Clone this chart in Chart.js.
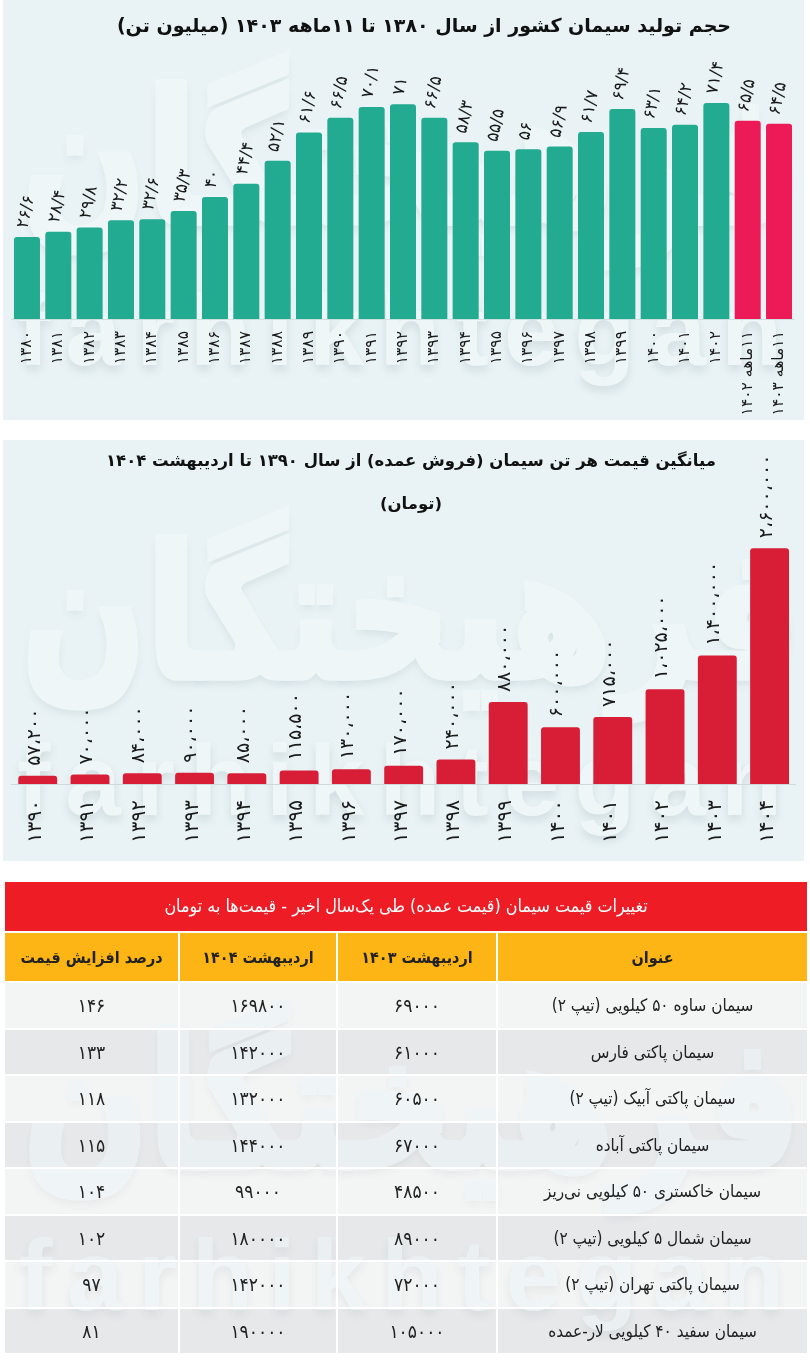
<!DOCTYPE html>
<html lang="fa">
<head>
<meta charset="utf-8">
<title>سیمان</title>
<script src="https://cdn.jsdelivr.net/npm/chart.js@4"></script>
<style>
  html, body { margin: 0; padding: 0; background: #fff; }
  #page { position: relative; width: 810px; height: 1370px; overflow: hidden; font-family: "DejaVu Sans", sans-serif; }
  .panel { position: absolute; left: 3px; width: 801px; background: #e9f3f6; overflow: hidden; }
  #panel1 { top: 0; height: 420px; }
  #panel2 { top: 440px; height: 421px; }
  canvas { position: absolute; left: 0; display: block; }
  #chart1 { top: 0; }
  #chart2 { top: 440px; }
  .title { position: absolute; width: 810px; left: 0; text-align: center; direction: rtl; font-weight: bold; color: #111; white-space: nowrap; }
  .wm { position: absolute; white-space: nowrap; color: #eef6f8; text-shadow: 0 5px 9px rgba(90,110,120,.16); font-weight: bold; pointer-events: none; transform-origin: 0 0; }
  .wm-fa { font-size: 146px; direction: rtl; width: 790px; left: 5px; -webkit-text-stroke: 6px #eef6f8; transform: scaleY(1.25); }
  .wm-en { font-size: 100px; font-family: "Liberation Sans", sans-serif; letter-spacing: 15px; left: 14px; }
  #rowStripes { position: absolute; left: 5px; top: 0; width: 802px; height: 1370px; pointer-events: none; }
  #rowStripes div { position: absolute; left: 0; width: 802px; }
  #tableWrap { position: absolute; left: 5px; top: 882px; width: 802px; }
  table { border-collapse: separate; border-spacing: 0; width: 802px; table-layout: fixed; direction: rtl; font-family: "DejaVu Sans Condensed", "DejaVu Sans", sans-serif; color: #222; }
  caption { background: #ee1c25; color: #fff; height: 49px; line-height: 47px; font-size: 17.8px; }
  th { background: #fdb515; height: 48px; padding: 0; font-size: 16px; font-weight: bold; color: #222; border-top: 2px solid #fff; border-left: 2px solid #fff; }
  td { height: 44.5px; padding: 0; text-align: center; font-size: 19px; border-top: 2px solid #fff; border-left: 2px solid #fff; background: transparent; }
  td:first-child { font-size: 17px; }
  th:last-child, td:last-child { border-left: 0; }
  #tableWm { position: absolute; left: 5px; top: 982px; width: 802px; height: 372px; overflow: hidden; opacity: .6; pointer-events: none; }
</style>
</head>
<body>
<div id="page">
  <div class="panel" id="panel1">
    <div class="wm wm-fa" style="top:52px">فرهیختگان</div>
    <div class="wm wm-en" style="top:273px">farhikhtegan</div>
  </div>
  <div class="panel" id="panel2">
    <div class="wm wm-fa" style="top:67px">فرهیختگان</div>
    <div class="wm wm-en" style="top:283px">farhikhtegan</div>
  </div>
  <canvas id="chart1" width="810" height="420" dir="rtl"></canvas>
  <canvas id="chart2" width="810" height="420" dir="rtl"></canvas>
  <div class="title" style="top:14px;left:19px;font-size:19px">حجم تولید سیمان کشور از سال ۱۳۸۰ تا ۱۱ماهه ۱۴۰۳ (میلیون تن)</div>
  <div class="title" style="top:451px;left:6px;font-size:16.5px">میانگین قیمت هر تن سیمان (فروش عمده) از سال ۱۳۹۰ تا اردیبهشت ۱۴۰۴</div>
  <div class="title" style="top:494px;left:6px;font-size:16.5px">(تومان)</div>
  <div id="rowStripes"></div>
  <div id="tableWm">
    <div class="wm wm-fa" style="top:15px">فرهیختگان</div>
    <div class="wm wm-en" style="top:236px">farhikhtegan</div>
  </div>
  <div id="tableWrap"><table id="priceTable"></table></div>
</div>

<script>
// production chart
const prodYears = ['۱۳۸۰','۱۳۸۱','۱۳۸۲','۱۳۸۳','۱۳۸۴','۱۳۸۵','۱۳۸۶','۱۳۸۷','۱۳۸۸','۱۳۸۹','۱۳۹۰','۱۳۹۱','۱۳۹۲','۱۳۹۳','۱۳۹۴','۱۳۹۵','۱۳۹۶','۱۳۹۷','۱۳۹۸','۱۳۹۹','۱۴۰۰','۱۴۰۱','۱۴۰۲','۱۱ماهه ۱۴۰۲','۱۱ماهه ۱۴۰۳'];
const prodValues = [26.6,28.4,29.8,32.2,32.6,35.3,40,44.4,52.1,61.6,66.5,70.1,71,66.5,58.3,55.5,56,56.9,61.7,69.4,63.1,64.2,71.4,65.5,64.5];

// price chart
const priceYears = ['۱۳۹۰','۱۳۹۱','۱۳۹۲','۱۳۹۳','۱۳۹۴','۱۳۹۵','۱۳۹۶','۱۳۹۷','۱۳۹۸','۱۳۹۹','۱۴۰۰','۱۴۰۱','۱۴۰۲','۱۴۰۳','۱۴۰۴'];
const priceValues = [57200,70000,84000,90000,85000,115500,130000,170000,240000,880000,600000,715000,1025000,1400000,2600000];

// table
const tableTitle = 'تغییرات قیمت سیمان (قیمت عمده) طی یک‌سال اخیر - قیمت‌ها به تومان';
const tableHeads = ['عنوان','اردیبهشت ۱۴۰۳','اردیبهشت ۱۴۰۴','درصد افزایش قیمت'];
const tableNames = ['سیمان ساوه ۵۰ کیلویی (تیپ ۲)','سیمان پاکتی فارس','سیمان پاکتی آبیک (تیپ ۲)','سیمان پاکتی آباده','سیمان خاکستری ۵۰ کیلویی نی‌ریز','سیمان شمال ۵ کیلویی (تیپ ۲)','سیمان پاکتی تهران (تیپ ۲)','سیمان سفید ۴۰ کیلویی لار-عمده'];
const tablePrice1403 = [69000,61000,60500,67000,48500,89000,72000,105000];
const tablePrice1404 = [169800,142000,132000,144000,99000,180000,142000,190000];
const tablePercent = [146,133,118,115,104,102,97,81];
const columnWidths = [311,160,158,173];

function faDigits(v) {
  return String(v).replace(/\d/g, d => '۰۱۲۳۴۵۶۷۸۹'[d]);
}

function faThousands(v) {
  return faDigits(String(v).replace(/\B(?=(\d{3})+$)/g, '،'));
}

function faDecimal(v) {
  return faDigits(String(v).replace('.', '/'));
}

// writes the value above each bar, rotated
const valueLabels = {
  id: 'valueLabels',
  afterDatasetsDraw(chart, args, opts) {
    const ctx = chart.ctx;
    const bars = chart.getDatasetMeta(0).data;
    ctx.save();
    ctx.fillStyle = '#1a1a1a';
    ctx.font = opts.font;
    ctx.textAlign = 'left';
    ctx.textBaseline = 'middle';
    bars.forEach((bar, i) => {
      ctx.save();
      ctx.translate(bar.x + opts.dx, bar.y - opts.gap);
      ctx.rotate(opts.angle * Math.PI / 180);
      ctx.fillText(opts.format(chart.data.datasets[0].data[i]), 0, 0);
      ctx.restore();
    });
    ctx.restore();
  }
};

function renderBars(id, cfg) {
  new Chart(document.getElementById(id), {
    type: 'bar',
    plugins: [valueLabels],
    data: {
      labels: cfg.labels,
      datasets: [{
        data: cfg.values,
        base: cfg.yMin,
        backgroundColor: cfg.colors,
        borderRadius: 3,
        barPercentage: cfg.barPercentage,
        categoryPercentage: 1
      }]
    },
    options: {
      responsive: false,
      animation: false,
      layout: { padding: cfg.padding },
      plugins: {
        legend: { display: false },
        tooltip: { enabled: false },
        valueLabels: cfg.labelOpts
      },
      scales: {
        x: {
          grid: { display: false, drawTicks: false },
          border: { color: cfg.lineColor, width: 1 },
          afterFit: scale => { scale.height = cfg.axisHeight; },
          ticks: {
            minRotation: 90,
            maxRotation: 90,
            autoSkip: false,
            padding: cfg.tickPadding,
            labelOffset: cfg.tickOffset,
            color: '#1a1a1a',
            font: { family: 'DejaVu Sans', size: cfg.tickSize }
          }
        },
        y: { display: false, min: cfg.yMin, max: cfg.yMax }
      }
    }
  });
}

function renderTable() {
  const table = document.getElementById('priceTable');
  const caption = table.createCaption();
  caption.textContent = tableTitle;
  const colgroup = document.createElement('colgroup');
  columnWidths.forEach(w => {
    const col = document.createElement('col');
    col.style.width = w + 'px';
    colgroup.appendChild(col);
  });
  table.appendChild(colgroup);
  const head = table.createTHead().insertRow();
  tableHeads.forEach(h => {
    const th = document.createElement('th');
    th.textContent = h;
    head.appendChild(th);
  });
  const body = table.createTBody();
  tableNames.forEach((name, i) => {
    const row = body.insertRow();
    [name, faDigits(tablePrice1403[i]), faDigits(tablePrice1404[i]), faDigits(tablePercent[i])].forEach(t => {
      row.insertCell().textContent = t;
    });
  });

  // row stripes sit under the watermark, the table text stays on top
  const stripes = document.getElementById('rowStripes');
  Array.from(body.rows).forEach((row, i) => {
    const box = row.getBoundingClientRect();
    const stripe = document.createElement('div');
    stripe.style.top = box.top + 'px';
    stripe.style.height = box.height + 'px';
    stripe.style.background = i % 2 ? '#e6e8e9' : '#f3f4f4';
    stripes.appendChild(stripe);
  });
}

renderBars('chart1', {
  labels: prodYears,
  values: prodValues,
  colors: prodYears.map(y => y.includes('ماهه') ? '#ec1a56' : '#22ab90'),
  yMin: -0.8,
  yMax: 80,
  barPercentage: 0.83,
  padding: { left: 11.3, right: 15.3, top: 77.4, bottom: 0 },
  axisHeight: 101,
  tickPadding: 12,
  tickOffset: 0,
  tickSize: 15.5,
  lineColor: '#cfe0e0',
  labelOpts: { font: '17px "DejaVu Sans"', dx: -4, gap: 9, angle: -78, format: faDecimal }
});

renderBars('chart2', {
  labels: priceYears,
  values: priceValues,
  colors: priceYears.map(() => '#d81e37'),
  yMin: -35000,
  yMax: 3000000,
  barPercentage: 0.744,
  padding: { left: 11.6, right: 12.6, top: 72.4, bottom: 0 },
  axisHeight: 76,
  tickPadding: 16,
  tickOffset: -2,
  tickSize: 20,
  lineColor: '#cfd8dc',
  labelOpts: { font: '19px "DejaVu Sans"', dx: -3, gap: 10, angle: -90, format: faThousands }
});

renderTable();
</script>
</body>
</html>
